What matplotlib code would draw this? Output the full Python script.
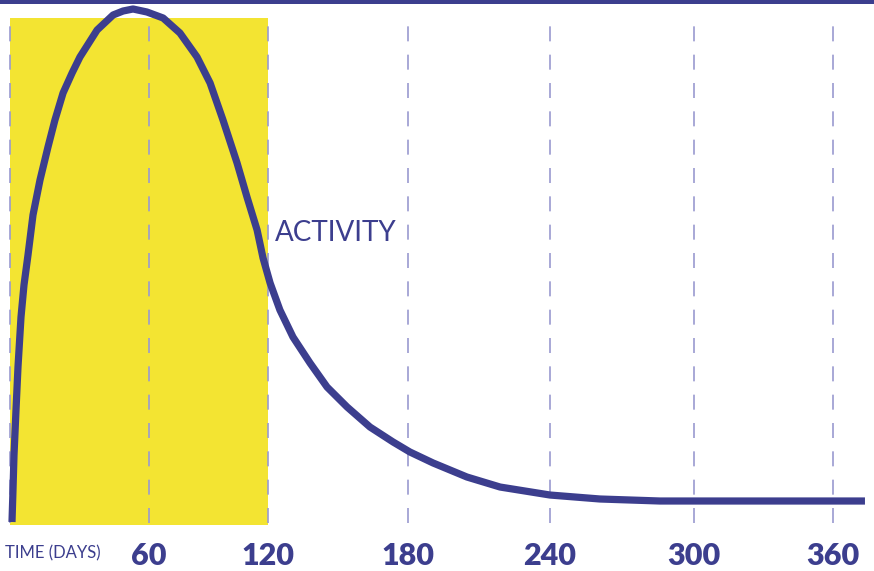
import numpy as np
import matplotlib.pyplot as plt
from matplotlib.patches import Rectangle

# Activity curve (days, relative activity in %)
days = [0.86, 1.29, 1.73, 2.59, 3.45, 4.75, 6.04, 7.77, 9.93, 12.95, 16.4, 19.4,
        22.9, 26.8, 30.2, 37.6, 44.5, 48.8, 53.1, 59.1, 67.1, 75.6, 84.2, 90.8,
        97.3, 104.4, 109.4, 114.5, 117.5, 120.9, 125.1, 130.7, 138.0, 145.3,
        153.9, 163.7, 173.6, 180.8, 190.6, 204.9, 218.9, 240.0, 260.8, 285.8, 373.8]
activity = [0.58, 6.78, 13.57, 22.29, 30.62, 40.31, 46.51, 52.33, 60.08, 66.86, 73.26, 78.49,
            83.72, 87.60, 90.70, 95.93, 98.84, 99.61, 100.0, 99.42, 98.26, 95.35, 90.70, 85.66,
            78.49, 70.16, 63.57, 57.17, 51.74, 46.90, 41.67, 36.43, 31.40, 26.74,
            22.87, 18.99, 16.09, 14.15, 12.02, 9.30, 7.36, 5.81, 5.04, 4.65, 4.65]

grid_days = [0, 60, 120, 180, 240, 300, 360]
tick_labels = ["60", "120", "180", "240", "300", "360"]
highlight = (0, 120)
highlight_top = 98.26

navy = "#3c3e8e"
yellow = "#f3e432"
grid_col = "#9a9ad0"

# the gridlines in the original are not evenly spaced; follow them piecewise
grid_px = [10, 149, 268, 408, 550, 694, 833]
ext_days = [-360] + grid_days + [720]
ext_px = [10 - 360 * 139 / 60] + grid_px + [833 + 360 * 139 / 60]


def fwd(x):
    return np.interp(x, ext_days, ext_px)


def inv(p):
    return np.interp(p, ext_px, ext_days)


fig = plt.figure(figsize=(8.74, 5.71), dpi=100)
ax = fig.add_axes([0, 46 / 571, 1, 525 / 571])
ax.set_xscale("function", functions=(fwd, inv))
ax.set_xlim(inv(0), inv(874))
ax.set_ylim(0, 525 / 5.16)
for s in ax.spines.values():
    s.set_visible(False)
ax.set_yticks([])

ax.add_patch(Rectangle((highlight[0], 0), highlight[1] - highlight[0], highlight_top,
                       facecolor=yellow, edgecolor="none", zorder=1))
ax.vlines(grid_days, 0.4, 98.8, colors=grid_col, linewidth=1.2,
          linestyles=(0, (9, 8)), zorder=2)
ax.plot(days, activity, color=navy, linewidth=5.2, solid_capstyle="butt",
        solid_joinstyle="round", zorder=3, clip_on=False)

ax.text(123, 56.5, "ACTIVITY", color=navy, fontsize=20, family="Lato",
        va="center", ha="left", zorder=4)

ax.set_xticks(grid_days[1:], tick_labels)
ax.minorticks_off()
ax.tick_params(axis="x", length=0, pad=12, labelsize=22, labelcolor=navy)
for t in ax.get_xticklabels():
    t.set_family("Lato")
    t.set_fontweight("heavy")

fig.text(5 / 874, 1 - 553 / 571, "TIME (DAYS)", color=navy, fontsize=12,
         family="Lato", va="center", ha="left")

fig.add_artist(Rectangle((0, 1 - 4 / 571), 1, 4 / 571, transform=fig.transFigure,
                         facecolor=navy, edgecolor="none"))

fig.savefig("out.png", dpi=100)
